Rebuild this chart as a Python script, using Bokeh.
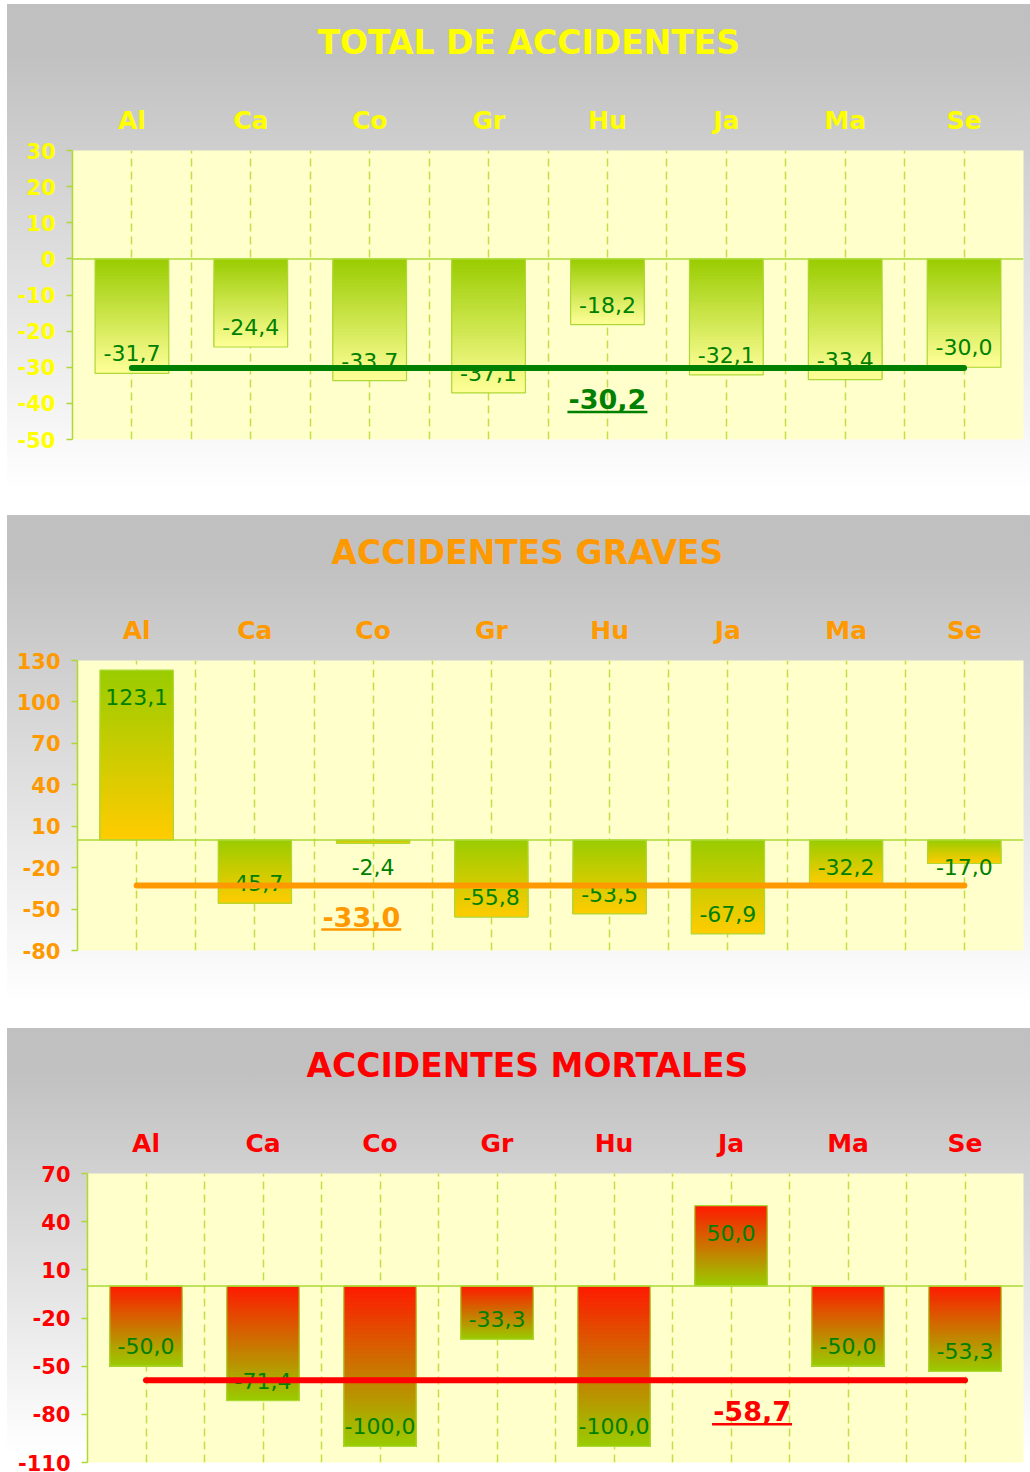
from bokeh.plotting import figure
from bokeh.models import FactorRange, Range1d, FixedTicker, Grid, Span
from bokeh.embed import file_html
from bokeh.resources import INLINE
from bokeh.core.properties import value

# ---------------- data ----------------
categories = ["Al", "Ca", "Co", "Gr", "Hu", "Ja", "Ma", "Se"]

total_title = "TOTAL DE ACCIDENTES"
total_values = [-31.7, -24.4, -33.7, -37.1, -18.2, -32.1, -33.4, -30.0]
total_avg = -30.2
total_ticks = [-50, -40, -30, -20, -10, 0, 10, 20, 30]

graves_title = "ACCIDENTES GRAVES"
graves_values = [123.1, -45.7, -2.4, -55.8, -53.5, -67.9, -32.2, -17.0]
graves_avg = -33.0
graves_ticks = [-80, -50, -20, 10, 40, 70, 100, 130]

mortales_title = "ACCIDENTES MORTALES"
mortales_values = [-50.0, -71.4, -100.0, -33.3, -100.0, 50.0, -50.0, -53.3]
mortales_avg = -58.7
mortales_ticks = [-110, -80, -50, -20, 10, 40, 70]

# ---------------- styles ----------------
FONT = "DejaVu Sans"
GRID = "#C4DF45"
EDGE = "#ADD836"
WIDTH = 1023
MT = 171

styles = [
    dict(color="#FFFF00", avg_color="#008000", top="#99CC00", bottom="#FFFF99",
         frame_h=289, mb=71, ml=65, margin=(-21, 0, 0, 7), clear=25,
         avg_cat="Hu", avg_off=0.0, title_offset=245),
    dict(color="#FF9900", avg_color="#FF9900", top="#99CC00", bottom="#FFCC00",
         frame_h=290, mb=73, ml=70, margin=(-21, 0, 0, 7), clear=26,
         avg_cat="Co", avg_off=-0.10, title_offset=254),
    dict(color="#FF0000", avg_color="#FF0000", top="#FF1A00", bottom="#99CC00",
         frame_h=289, mb=10, ml=80, margin=(-21, 0, 0, 7), clear=26,
         avg_cat="Ja", avg_off=0.18, title_offset=219),
]


def fmt(v):
    return f"{v:.1f}".replace(".", ",")


def hex2rgb(h):
    return tuple(int(h[i:i + 2], 16) for i in (1, 3, 5))


def blend(c1, c2, t):
    a, b = hex2rgb(c1), hex2rgb(c2)
    return "#%02x%02x%02x" % tuple(round(a[i] + (b[i] - a[i]) * t) for i in range(3))


def make_panel(title, vals, avg, ticks, st):
    ymin, ymax = ticks[0], ticks[-1]
    height = MT + st["frame_h"] + st["mb"]
    p = figure(x_range=FactorRange(*categories), y_range=Range1d(ymin, ymax),
               width=WIDTH, height=height, output_backend="svg",
               toolbar_location=None, x_axis_location="above",
               min_border_left=st["ml"], min_border_right=7,
               min_border_top=MT, min_border_bottom=st["mb"],
               background_fill_color="#FFFFCC", border_fill_color=None,
               outline_line_color=None)
    p.margin = st["margin"]
    c0 = st["clear"]
    panel_h = height - c0
    p.styles = {"background": (
        f"linear-gradient(180deg, rgba(255,255,255,0) 0px, rgba(255,255,255,0) {c0}px, "
        f"#C0C0C0 {c0}px, #C1C1C1 {c0 + round(panel_h * 0.10)}px, "
        f"#FFFFFF {c0 + round(panel_h * 0.96)}px)")}

    frame_h = st["frame_h"]
    frame_w = WIDTH - st["ml"] - 7
    ppu = frame_h / (ymax - ymin)
    ppc = frame_w / len(categories)

    # title
    p.title.text = title
    p.title.align = "left"
    p.title.text_font = FONT
    p.title.text_font_size = "33px"
    p.title.text_font_style = "bold"
    p.title.text_color = st["color"]
    p.title.offset = st["title_offset"]
    p.title.standoff = 81

    # category axis (top)
    xa = p.xaxis[0]
    xa.axis_line_color = None
    xa.major_tick_line_color = None
    xa.minor_tick_line_color = None
    xa.major_label_standoff = 10
    xa.major_label_text_font = FONT
    xa.major_label_text_font_size = "25px"
    xa.major_label_text_font_style = "bold"
    xa.major_label_text_color = st["color"]

    # value axis (left)
    ya = p.yaxis[0]
    ya.ticker = FixedTicker(ticks=ticks)
    ya.major_label_overrides = {t: str(t) for t in ticks}
    ya.axis_line_color = EDGE
    ya.axis_line_width = 1.5
    ya.major_tick_line_color = EDGE
    ya.major_tick_line_width = 1.5
    ya.major_tick_out = 6
    ya.major_tick_in = 0
    ya.minor_tick_line_color = None
    ya.major_label_standoff = 11
    ya.major_label_text_font = FONT
    ya.major_label_text_font_size = "21px"
    ya.major_label_text_font_style = "bold"
    ya.major_label_text_color = st["color"]

    # grids
    p.ygrid.grid_line_color = None
    p.xgrid.grid_line_color = GRID
    p.xgrid.grid_line_dash = "8 5"
    p.xgrid.grid_line_width = 1.5
    bgrid = Grid(dimension=0, ticker=FixedTicker(ticks=list(range(1, len(categories)))),
                 grid_line_color=GRID, grid_line_dash="8 5", grid_line_width=1.5)
    p.add_layout(bgrid)

    # gradient bars (stacked shrinking slices)
    N = 40
    xs, tops, bottoms, cols = [], [], [], []
    for cat, v in zip(categories, vals):
        hi, lo = max(v, 0), min(v, 0)
        for k in range(N):
            xs.append(cat)
            tops.append(hi - (hi - lo) * k / N)
            bottoms.append(lo)
            cols.append(blend(st["top"], st["bottom"], (k + 0.5) / N))
    p.vbar(x=xs, top=tops, bottom=bottoms, width=0.62, fill_color=cols, line_color=None)
    p.vbar(x=categories, top=[max(v, 0) for v in vals], bottom=[min(v, 0) for v in vals],
           width=0.62, fill_color=None, line_color=EDGE, line_width=1.2)

    # zero line
    p.add_layout(Span(location=0, dimension="width", line_color=EDGE, line_width=1.5))

    # value labels
    ly = []
    for v in vals:
        if v < 0:
            ly.append(min(v + 20 / ppu, -27 / ppu))
        else:
            ly.append(v - 27 / ppu)
    p.text(x=categories, y=ly, text=[fmt(v) for v in vals], text_font=value(FONT),
           text_font_size="22px", text_color="#008000", text_align="center",
           text_baseline="middle")

    # average line
    p.line(x=[categories[0], categories[-1]], y=[avg, avg], line_width=6,
           line_color=st["avg_color"], line_cap="round")

    # average label (bold, underlined)
    ax = (st["avg_cat"], st["avg_off"])
    p.text(x=[ax], y=[avg - 31 / ppu], text=[fmt(avg)], text_font=value(FONT),
           text_font_size="27px", text_font_style="bold", text_color=st["avg_color"],
           text_align="center", text_baseline="middle")
    hw = 40 / ppc
    uy = avg - 44 / ppu
    p.segment(x0=[(st["avg_cat"], st["avg_off"] - hw)], x1=[(st["avg_cat"], st["avg_off"] + hw)],
              y0=[uy], y1=[uy], line_width=2.5, line_color=st["avg_color"])
    return p


p1 = make_panel(total_title, total_values, total_avg, total_ticks, styles[0])
p2 = make_panel(graves_title, graves_values, graves_avg, graves_ticks, styles[1])
p3 = make_panel(mortales_title, mortales_values, mortales_avg, mortales_ticks, styles[2])

open("out.html", "w").write(file_html([p1, p2, p3], INLINE))
